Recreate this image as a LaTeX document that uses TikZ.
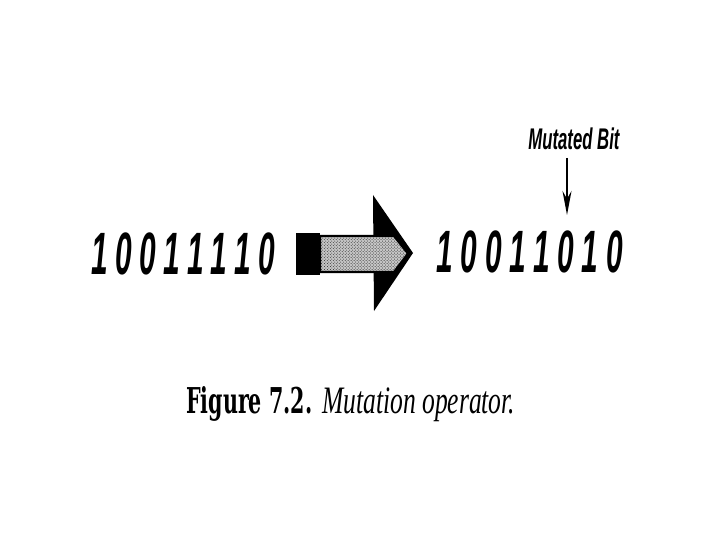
\documentclass[tikz,border=0pt]{standalone}
\usepackage{graphicx}
\usepackage{fontspec}
\usetikzlibrary{arrows.meta,patterns}
\newfontfamily\dfont{Liberation Sans}
\newfontfamily\capbf{DejaVu Serif}
\newfontfamily\capit{Liberation Serif}
\newcommand\dg[1]{\scalebox{0.5}[1]{#1}}
\tikzset{
  digit/.style={anchor=base, inner sep=0pt, font=\dfont\bfseries\itshape\fontsize{60}{60}\selectfont},
  lbl/.style={anchor=base, inner sep=0pt, font=\dfont\bfseries\itshape\fontsize{30}{30}\selectfont},
  captext/.style={anchor=base west, inner sep=0pt},
  stipple/.style={preaction={fill=gray!45}, pattern=crosshatch dots, pattern color=black!85},
  pointer/.style={-{Stealth[length=24bp,width=9bp]}, line width=1.6bp}
}
\begin{document}
\begin{tikzpicture}[x=1bp,y=-1bp]
\useasboundingbox (0,0) rectangle (720,540);
% left string
\foreach \d [count=\i] in {1,0,0,1,1,1,1,0}
  \node[digit] (L\i) at ({100+23.85*(\i-1)},274.5) {\dg{\d}};
% right string
\foreach \d [count=\i] in {1,0,0,1,1,0,1,0}
  \node[digit] (R\i) at ({445+24.2*(\i-1)},272.5) {\dg{\d}};
% big arrow
\fill[black] (373,195) -- (413,253) -- (374,311) -- cycle;
\fill[black] (296,233) rectangle (320,275);
\draw[stipple, draw=black, line width=2.2bp] (320,236) -- (394,236) -- (408,253.5) -- (394,272) -- (320,272) -- cycle;
% mutated bit label and pointer
\node[lbl] (mb) at (574,150) {\scalebox{0.56}[1]{Mutated Bit}};
\coordinate (ptop) at (567,158);
\coordinate (pend) at (567,215);
\draw[pointer] (ptop) -- (pend);
% caption
\node[captext] (caption) at (186,413) {{\capbf\bfseries\fontsize{35.7}{40}\selectfont\resizebox{126bp}{\height}{Figure 7.2.}}\hspace{10bp}{\capit\itshape\fontsize{39}{40}\selectfont\resizebox{193bp}{\height}{Mutation operator.}}};
\end{tikzpicture}
\end{document}
